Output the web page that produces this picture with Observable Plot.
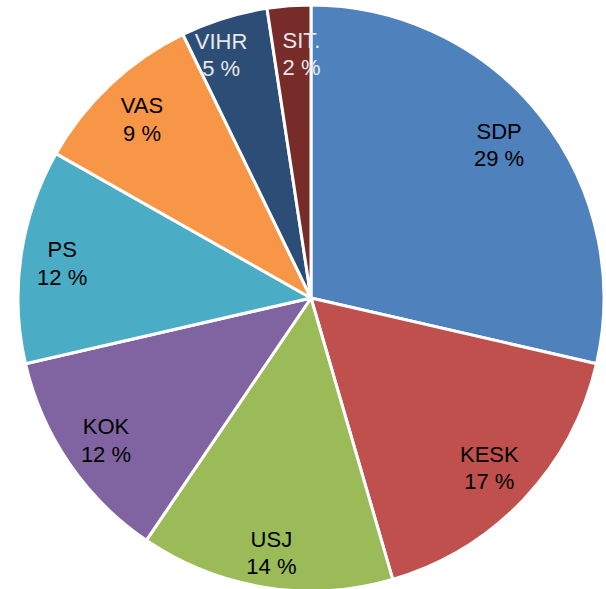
<!DOCTYPE html>
<html>
<head>
<meta charset="utf-8">
<script src="https://cdn.jsdelivr.net/npm/d3@7"></script>
<script src="https://cdn.jsdelivr.net/npm/@observablehq/plot@0.6"></script>
<style>
  html, body { margin: 0; padding: 0; background: #fff; }
  #chart svg { display: block; }
</style>
</head>
<body>
<div id="chart"></div>
<script>
const parties = ["SDP", "KESK", "USJ", "KOK", "PS", "VAS", "VIHR", "SIT."];
const shares = [28.6, 16.9, 14.0, 11.9, 11.8, 9.6, 4.8, 2.4];
const pctLabels = ["29 %", "17 %", "14 %", "12 %", "12 %", "9 %", "5 %", "2 %"];
const colors = ["#4F81BD", "#C0504D", "#9BBB59", "#8064A2", "#4BACC6", "#F79646", "#2C4D75", "#772C2A"];
const labelColors = ["#000", "#000", "#000", "#000", "#000", "#000", "#e8e8e8", "#e8e8e8"];
// label placement (fraction of radius, angular nudge in degrees)
const labelRadius = [0.83, 0.835, 0.875, 0.85, 0.86, 0.845, 0.89, 0.84];
const labelNudge = [-1, 0, 0, 0, 0, 0, -3, 2];

const W = 606, H = 589;
const cx = 311, cy = 298, R = 293;

const pie = d3.pie().sort(null).value(d => d)(shares);
const data = pie.map((p, i) => {
  const mid = (p.startAngle + p.endAngle) / 2 + labelNudge[i] * Math.PI / 180;
  const rr = labelRadius[i];
  return {
    party: parties[i],
    label: parties[i] + "\n" + pctLabels[i],
    x: rr * Math.sin(mid),
    y: rr * Math.cos(mid),
    color: labelColors[i]
  };
});

function pieMark(index, scales, values, dimensions) {
  const ox = scales.x(0), oy = scales.y(0);
  const rad = scales.x(1) - scales.x(0);
  const arc = d3.arc().innerRadius(0).outerRadius(rad);
  const g = d3.create("svg:g").attr("transform", `translate(${ox},${oy})`);
  g.selectAll("path")
    .data(pie)
    .join("path")
    .attr("d", arc)
    .attr("fill", (d, i) => colors[i])
    .attr("stroke", "#fff")
    .attr("stroke-width", 3)
    .attr("stroke-linejoin", "round");
  return g.node();
}

const chart = Plot.plot({
  width: W,
  height: H,
  margin: 0,
  style: { background: "#fff", fontFamily: "'Liberation Sans', Arial, sans-serif" },
  x: { domain: [-cx / R, (W - cx) / R], axis: null },
  y: { domain: [-(H - cy) / R, cy / R], axis: null },
  marks: [
    pieMark,
    Plot.text(data, {
      x: "x",
      y: "y",
      text: "label",
      fill: "color",
      fontSize: 22,
      lineHeight: 1.25,
      fontFamily: "'Liberation Sans', Arial, sans-serif"
    })
  ]
});
document.getElementById("chart").append(chart);
</script>
</body>
</html>
